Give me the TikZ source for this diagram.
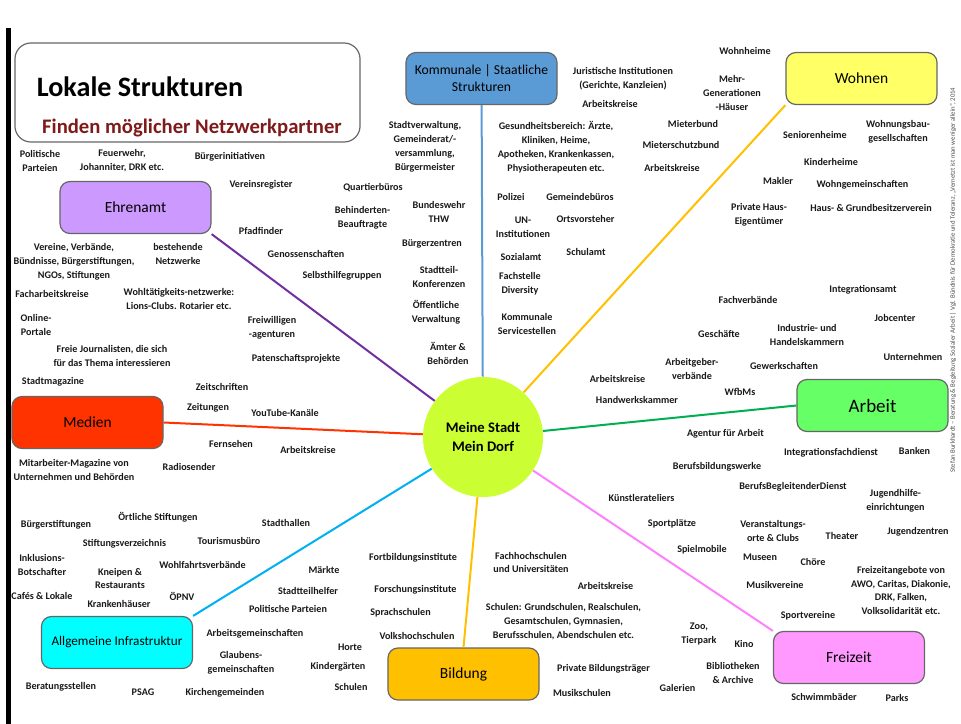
\documentclass[tikz,border=0pt]{standalone}
\usepackage{fontspec}
\setmainfont{Carlito}
\usepackage{tikz}
\definecolor{kommblau}{HTML}{5B9BD5}
\definecolor{wohngelb}{HTML}{FFFF66}
\definecolor{ehrlila}{HTML}{CC99FF}
\definecolor{medienrot}{HTML}{FF3300}
\definecolor{arbeitgruen}{HTML}{66FF66}
\definecolor{infracyan}{HTML}{00FFFF}
\definecolor{bildungorange}{HTML}{FFC000}
\definecolor{freizeitrosa}{HTML}{FF99FF}
\definecolor{stadtgruen}{HTML}{CCFF33}
\definecolor{titelrot}{HTML}{7F1A1A}
\definecolor{linielila}{HTML}{7030A0}
\definecolor{liniegruen}{HTML}{00B050}
\definecolor{linieblau}{HTML}{00B0F0}
\definecolor{linierosa}{HTML}{FF80FF}
\tikzset{
	lbl/.style={align=center, inner sep=0pt, text=black!90, font=\fontsize{7.2}{9.9}\selectfont\bfseries},
	bereich/.style={draw=black!60, line width=0.3mm, rounded corners=2.5mm, minimum width=3.775cm, minimum height=1.3cm, align=center, font=\fontsize{11}{13}\selectfont},
}
\def\lbl#1(#2)#3{\node[lbl] (#1) at (#2) {#3};}

\begin{document}
\begin{tikzpicture}[x=0.025cm, y=-0.025cm]
			%%%%% START %%%%%
			\useasboundingbox (0,0) rectangle (961,724);
			\draw[fill=black] (6,28) rectangle (10,724);
			
			\node[draw=black!60, line width=0.3mm, rounded corners=4mm, minimum width=8.625cm, minimum height=2.475cm] (titelbox) at (187.5,92.5) {};
			\node[font=\fontsize{20}{24}\selectfont\bfseries] (titel) at (140,87) {Lokale Strukturen};
			\node[font=\fontsize{14.7}{17}\selectfont\bfseries, text=titelrot] (untertitel) at (192,128) {Finden möglicher Netzwerkpartner};
			
			\node[bereich, fill=kommblau, font=\fontsize{9.7}{12}\selectfont] (komm) at (481.5,78.5) {Kommunale | Staatliche\\Strukturen};
			\node[bereich, fill=wohngelb] (wohnen) at (861.5,78.5) {Wohnen};
			\node[bereich, fill=ehrlila] (ehrenamt) at (135.5,207.5) {Ehrenamt};
			\node[bereich, fill=medienrot] (medien) at (87.5,422.5) {Medien};
			\node[bereich, fill=arbeitgruen, font=\fontsize{13.5}{15}\selectfont] (arbeit) at (872.5,405.5) {Arbeit};
			\node[bereich, fill=infracyan, font=\fontsize{9.4}{12}\selectfont] (infra) at (117,642.5) {Allgemeine Infrastruktur};
			\node[bereich, fill=bildungorange] (bildung) at (463.5,674) {Bildung};
			\node[bereich, fill=freizeitrosa] (freizeit) at (849,657.5) {Freizeit};
			
			\node[circle, fill=stadtgruen, minimum size=3cm, align=center, font=\fontsize{10.4}{14}\selectfont\bfseries] (stadt) at (483,437) {Meine Stadt\\Mein Dorf};
			
			\draw[line width=0.5mm, color=kommblau] (komm) -- (stadt);
			\draw[line width=0.5mm, color=bildungorange] (wohnen.south west) -- (stadt);
			\draw[line width=0.5mm, color=linielila] (ehrenamt.south east) -- (stadt);
			\draw[line width=0.5mm, color=medienrot] (medien.east) -- (stadt);
			\draw[line width=0.5mm, color=liniegruen] (stadt) -- (arbeit.west);
			\draw[line width=0.5mm, color=linieblau] (infra.north east) -- (stadt);
			\draw[line width=0.5mm, color=bildungorange] (stadt) -- (bildung.north);
			\draw[line width=0.5mm, color=linierosa] (stadt) -- (freizeit.north west);
			
			\lbl{parteien}(40,161){Politische\\Parteien}
			\lbl{feuerwehr}(122,161){Feuerwehr,\\Johanniter, DRK etc.}
			\lbl{initiativen}(230,157){Bürgerinitiativen}
			\lbl{vereinsreg}(261,185){Vereinsregister}
			\lbl{pfadfinder}(261,231){Pfadfinder}
			\lbl{vereine}(74,262){Vereine, Verbände,\\Bündnisse, Bürgerstiftungen,\\NGOs, Stiftungen}
			\lbl{netzwerke}(178,254){bestehende\\Netzwerke}
			\lbl{genossen}(306,254){Genossenschaften}
			\lbl{selbsthilfe}(342,276){Selbsthilfegruppen}
			\lbl{facharb}(52,294){Facharbeitskreise}
			\lbl{lions}(179,299){Wohltätigkeits-netzwerke:\\Lions-Clubs. Rotarier etc.}
			\lbl{online}(36,325){Online-\\Portale}
			\lbl{freiwillig}(272,328){Freiwilligen\\-agenturen}
			\lbl{journal}(112,356){Freie Journalisten, die sich\\für das Thema interessieren}
			\lbl{paten}(296,359){Patenschaftsprojekte}
			
			\lbl{stadtmag}(53,382){Stadtmagazine}
			\lbl{zeitschr}(222,387){Zeitschriften}
			\lbl{zeitungen}(208,408){Zeitungen}
			\lbl{youtube}(285,413){YouTube-Kanäle}
			\lbl{fernsehen}(231,444){Fernsehen}
			\lbl{akmedien}(308,450){Arbeitskreise}
			\lbl{mitarb}(74,470){Mitarbeiter-Magazine von\\Unternehmen und Behörden}
			\lbl{radio}(189,467){Radiosender}
			
			\lbl{stadtverw}(425,147){Stadtverwaltung,\\Gemeinderat/-\\versammlung,\\Bürgermeister}
			\lbl{quartier}(373,188){Quartierbüros}
			\lbl{behind}(362.5,218){Behinderten-\\Beauftragte}
			\lbl{bundeswehr}(439,212){Bundeswehr\\THW}
			\lbl{bzentren}(432,244){Bürgerzentren}
			\lbl{stadtteil}(439,277){Stadtteil-\\Konferenzen}
			\lbl{oeffverw}(436,312.5){Öffentliche\\Verwaltung}
			\lbl{aemter}(448,353){Ämter \&\\Behörden}
			\lbl{jurist}(623,79){Juristische Institutionen\\(Gerichte, Kanzleien)}
			\lbl{akkomm}(610,104){Arbeitskreise}
			\lbl{gesund}(556,147){Gesundheitsbereich: Ärzte,\\Kliniken, Heime,\\Apotheken, Krankenkassen,\\Physiotherapeuten etc.}
			\lbl{polizei}(511,197){Polizei}
			\lbl{gemeinde}(580,197){Gemeindebüros}
			\lbl{un}(523,227){UN-\\Institutionen}
			\lbl{ortsvor}(585.5,219){Ortsvorsteher}
			\lbl{sozialamt}(521,257){Sozialamt}
			\lbl{schulamt}(586,252){Schulamt}
			\lbl{diversity}(520,284){Fachstelle\\Diversity}
			\lbl{service}(527,324){Kommunale\\Servicestellen}
			
			\lbl{wohnheime}(745,51){Wohnheime}
			\lbl{mehrgen}(732,93){Mehr-\\Generationen\\-Häuser}
			\lbl{mieterbund}(693,124){Mieterbund}
			\lbl{mieterschutz}(681,145){Mieterschutzbund}
			\lbl{akwohnen}(672,168){Arbeitskreise}
			\lbl{senioren}(815,135){Seniorenheime}
			\lbl{wohnbau}(898,132){Wohnungsbau-\\gesellschaften}
			\lbl{kinderheime}(831,162){Kinderheime}
			\lbl{makler}(778,181){Makler}
			\lbl{wg}(862.5,185){Wohngemeinschaften}
			\lbl{privhaus}(759,215){Private Haus-\\Eigentümer}
			\lbl{grundbes}(871,208){Haus- \& Grundbesitzerverein}
			
			\lbl{intamt}(863,290){Integrationsamt}
			\lbl{fachverb}(748,300){Fachverbände}
			\lbl{jobcenter}(895,318){Jobcenter}
			\lbl{geschaefte}(719,334){Geschäfte}
			\lbl{ihk}(807,335){Industrie- und\\Handelskammern}
			\lbl{unternehmen}(913,357){Unternehmen}
			\lbl{arbgeber}(692,369){Arbeitgeber-\\verbände}
			\lbl{gewerk}(784,366){Gewerkschaften}
			\lbl{akarbeit}(617.5,379){Arbeitskreise}
			\lbl{wfbm}(740,392){WfbMs}
			\lbl{handwerk}(637,400){Handwerkskammer}
			\lbl{agentur}(725.5,434){Agentur für Arbeit}
			\lbl{intfach}(831,453){Integrationsfachdienst}
			\lbl{banken}(914.5,451){Banken}
			\lbl{bbw}(717,467){Berufsbildungswerke}
			\lbl{bbd}(793,487){BerufsBegleitenderDienst}
			
			\lbl{jugendhilfe}(895.5,500.5){Jugendhilfe-\\einrichtungen}
			\lbl{ateliers}(641.5,498){Künstlerateliers}
			\lbl{sportpl}(672,524){Sportplätze}
			\lbl{veranst}(773,531){Veranstaltungs-\\orte \& Clubs}
			\lbl{theater}(842,536){Theater}
			\lbl{jugendz}(918,532){Jugendzentren}
			\lbl{spielmobile}(702,550){Spielmobile}
			\lbl{museen}(760,557){Museen}
			\lbl{choere}(813,562){Chöre}
			\lbl{awo}(901,590.5){Freizeitangebote von\\AWO, Caritas, Diakonie,\\DRK, Falken,\\Volksolidarität etc.}
			\lbl{musikver}(775,585){Musikvereine}
			\lbl{sportver}(808,616){Sportvereine}
			\lbl{zoo}(699,634){Zoo,\\Tierpark}
			\lbl{kino}(744,644){Kino}
			\lbl{biblio}(733,673){Bibliotheken\\\& Archive}
			\lbl{galerien}(677.5,688){Galerien}
			\lbl{schwimm}(824,697){Schwimmbäder}
			\lbl{parks}(897,698){Parks}
			
			\lbl{fortbild}(413,558){Fortbildungsinstitute}
			\lbl{forschung}(415.5,590){Forschungsinstitute}
			\lbl{sprach}(400.5,613){Sprachschulen}
			\lbl{vhs}(417,636){Volkshochschulen}
			\lbl{fh}(531,562.5){Fachhochschulen\\und Universitäten}
			\lbl{akbildung}(605.5,586){Arbeitskreise}
			\lbl{schulen}(563.5,622){Schulen: Grundschulen, Realschulen,\\Gesamtschulen, Gymnasien,\\Berufsschulen, Abendschulen etc.}
			\lbl{privbild}(603.5,669){Private Bildungsträger}
			\lbl{musikschulen}(582,693){Musikschulen}
			
			\lbl{bstiftungen}(56,525){Bürgerstiftungen}
			\lbl{oestiftungen}(158,517){Örtliche Stiftungen}
			\lbl{stadthallen}(286,523){Stadthallen}
			\lbl{stiftverz}(124.5,544){Stiftungsverzeichnis}
			\lbl{tourismus}(229,541){Tourismusbüro}
			\lbl{inklusion}(42,565){Inklusions-\\Botschafter}
			\lbl{kneipen}(120,578.5){Kneipen \&\\Restaurants}
			\lbl{wohlfahrt}(202.5,565){Wohlfahrtsverbände}
			\lbl{maerkte}(324,570){Märkte}
			\lbl{cafes}(42,596){Cafés \& Lokale}
			\lbl{kranken}(119,604){Krankenhäuser}
			\lbl{oepnv}(182,596){ÖPNV}
			\lbl{stteilhelfer}(308,591){Stadtteilhelfer}
			\lbl{polparteien}(288,609){Politische Parteien}
			\lbl{arbgem}(255,634){Arbeitsgemeinschaften}
			\lbl{horte}(350,647){Horte}
			\lbl{glauben}(241,663){Glaubens-\\gemeinschaften}
			\lbl{kita}(338,667){Kindergärten}
			\lbl{beratung}(61,687){Beratungsstellen}
			\lbl{psag}(143,692){PSAG}
			\lbl{kirche}(225,693){Kirchengemeinden}
			\lbl{schulen2}(351,687){Schulen}
			
			\node[rotate=90, inner sep=0pt, text=black!70, font=\fontsize{4.8}{5}\selectfont] (quelle) at (953,280) {Stefan Burkhardt – Beratung \& Begleitung Sozialer Arbeit | Vgl. Bündnis für Demokratie und Toleranz, „Vernetzt ist man weniger allein“, 2014};
			%%%%% END %%%%%
		\end{tikzpicture}
\end{document}
